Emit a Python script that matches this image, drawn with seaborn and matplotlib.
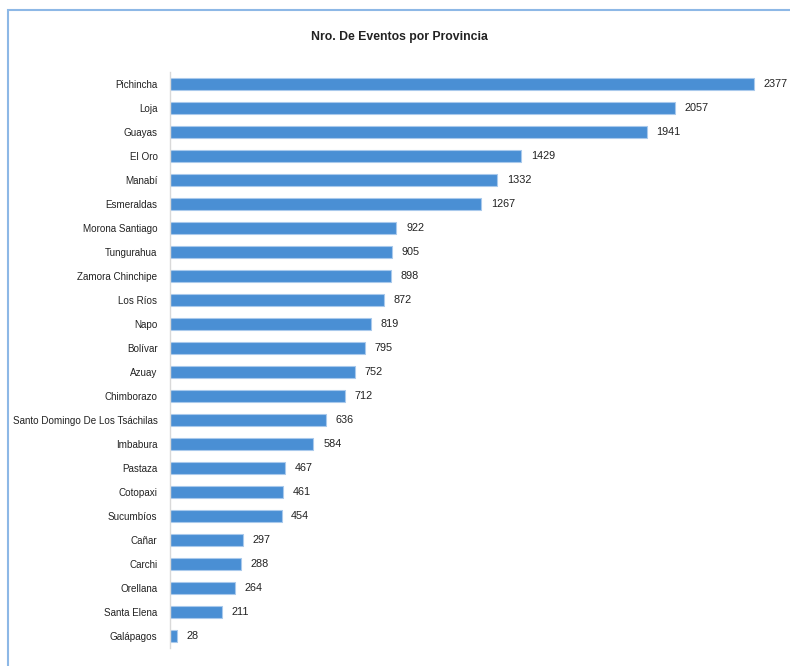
import pandas as pd
import matplotlib.pyplot as plt
import seaborn as sns
from matplotlib.patches import Rectangle

# Data
provincias = ["Pichincha", "Loja", "Guayas", "El Oro", "Manabí", "Esmeraldas",
              "Morona Santiago", "Tungurahua", "Zamora Chinchipe", "Los Ríos",
              "Napo", "Bolívar", "Azuay", "Chimborazo",
              "Santo Domingo De Los Tsáchilas", "Imbabura", "Pastaza", "Cotopaxi",
              "Sucumbíos", "Cañar", "Carchi", "Orellana", "Santa Elena", "Galápagos"]
eventos = [2377, 2057, 1941, 1429, 1332, 1267, 922, 905, 898, 872, 819, 795,
           752, 712, 636, 584, 467, 461, 454, 297, 288, 264, 211, 28]

df = pd.DataFrame({"Provincia": provincias, "Eventos": eventos})

sns.set_theme(style="white")
plt.rcParams['font.family'] = ['Liberation Sans', 'DejaVu Sans']

fig = plt.figure(figsize=(7.9, 6.66), dpi=100)
ax = fig.add_axes([170 / 790, 1 - 648 / 666, 614 / 790, 576 / 666])

sns.barplot(data=df, x="Eventos", y="Provincia", orient="h", color="#4a8fd4",
            width=0.5, edgecolor="#a9c9ec", linewidth=0.8, saturation=1, ax=ax)

ax.bar_label(ax.containers[0], padding=7, fontsize=7.8, color="#222222")

ax.set_xlim(0, 2500)
ax.set_xlabel("")
ax.set_ylabel("")
ax.set_xticks([])
ax.tick_params(axis="y", length=0, labelsize=7.1, pad=9, colors="#222222")
for s in ["top", "right", "bottom"]:
    ax.spines[s].set_visible(False)
ax.spines["left"].set_color("#d9d9d9")
ax.spines["left"].set_linewidth(1)

fig.text(399 / 790, 1 - 37 / 666, "Nro. De Eventos por Provincia", ha="center",
         va="center", fontsize=8.8, fontweight="bold", color="#222222")

# chart frame
fig.patches.append(Rectangle((8 / 790, -0.05), 1.0, 1 - 10 / 666 + 0.05,
                             transform=fig.transFigure, fill=False,
                             edgecolor="#8db8e6", linewidth=1.5))

plt.savefig("out.png", dpi=100)
plt.close()
